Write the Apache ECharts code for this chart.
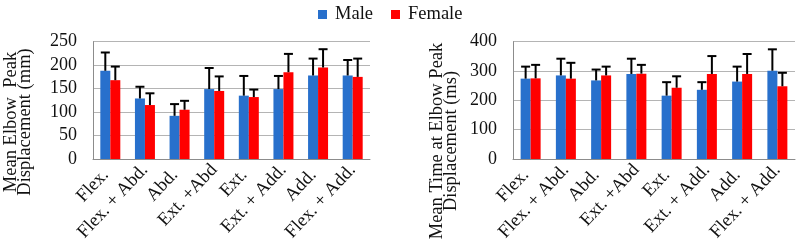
<!DOCTYPE html>
<html><head><meta charset="utf-8">
<script src="https://cdn.jsdelivr.net/npm/echarts@6/dist/echarts.min.js"></script>
<style>html,body{margin:0;padding:0;background:#fff}#c{width:796px;height:252px}</style>
</head><body><div id="c"></div>
<script>
const categories = ['Flex.', 'Flex. + Abd.', 'Abd.', 'Ext. +Abd', 'Ext.', 'Ext. + Add.', 'Add.', 'Flex. + Add.'];
const seriesNames = ['Male', 'Female'];
// Chart 1: Mean Elbow Peak Displacement (mm)
const dispMale = [188, 129, 92, 149, 135, 149, 178, 178];
const dispMaleSD = [39, 25, 25, 45, 42, 28, 36, 33];
const dispFemale = [168, 115, 105, 145, 132, 185, 195, 175];
const dispFemaleSD = [29, 25, 19, 31, 16, 39, 39, 39];
// Chart 2: Mean Time at Elbow Peak Displacement (ms)
const timeMale = [274, 285, 268, 290, 216, 236, 264, 301];
const timeMaleSD = [41, 57, 37, 52, 46, 26, 51, 73];
const timeFemale = [275, 274, 285, 291, 243, 290, 290, 248];
const timeFemaleSD = [46, 54, 30, 30, 39, 61, 68, 46];
const dispTicks = [0, 50, 100, 150, 200, 250];
const timeTicks = [0, 100, 200, 300, 400];

const BLUE = '#2870cc', RED = '#ff0000';
const FONT = 'Liberation Serif';
const BW = 10;

function errSeries(means, sds, xi, offset) {
  return {
    type: 'custom', xAxisIndex: xi, yAxisIndex: xi, z: 5, silent: true,
    data: means.map((m, i) => [i, m, m + sds[i]]),
    renderItem: function (params, api) {
      const b = api.coord([api.value(0), api.value(1)]);
      const t = api.coord([api.value(0), api.value(2)]);
      const x = b[0] + offset;
      const st = { stroke: '#000', lineWidth: 2 };
      return { type: 'group', children: [
        { type: 'line', shape: { x1: x, y1: b[1], x2: x, y2: t[1] }, style: st },
        { type: 'line', shape: { x1: x - 4.5, y1: t[1], x2: x + 4.5, y2: t[1] }, style: st }
      ]};
    }
  };
}

// short labels sit lower in the reference (Excel staggering)
function catData() {
  return categories.map((c, i) => i % 2 === 0
    ? { value: c, textStyle: { padding: [14, 7, 0, 0] } }
    : { value: c });
}

function xAx(gi) {
  return { type: 'category', gridIndex: gi, data: catData(),
    axisLine: { lineStyle: { color: '#8c8c8c', width: 1 } },
    axisTick: { show: false },
    axisLabel: { interval: 0, rotate: 47, margin: 8, fontFamily: FONT, fontSize: 18.5, color: '#111' } };
}
function yAx(gi, ticks) {
  return { type: 'value', gridIndex: gi, min: ticks[0], max: ticks[ticks.length - 1],
    interval: ticks[1] - ticks[0],
    axisLine: { show: true, lineStyle: { color: '#8c8c8c', width: 1 } },
    axisTick: { show: false },
    splitLine: { lineStyle: { color: '#b4b4b4', width: 1 } },
    axisLabel: { margin: 16, fontFamily: FONT, fontSize: 18, color: '#111' } };
}
function bar(name, data, xi, color) {
  return { name: name, type: 'bar', xAxisIndex: xi, yAxisIndex: xi, data: data,
    barWidth: BW, barGap: '0%', itemStyle: { color: color } };
}

const chart = echarts.init(document.getElementById('c'));
chart.setOption({
  animation: false,
  backgroundColor: '#fff',
  legend: { data: seriesNames, left: 313, top: 0, itemWidth: 9, itemHeight: 9, itemGap: 18,
    icon: 'rect', textStyle: { fontFamily: FONT, fontSize: 18.5, color: '#111', padding: [0, 0, 0, 3] } },
  grid: [
    { left: 93, width: 277, top: 41.7, bottom: 93 },
    { left: 513, width: 282, top: 41.7, bottom: 93 }
  ],
  xAxis: [xAx(0), xAx(1)],
  yAxis: [yAx(0, dispTicks), yAx(1, timeTicks)],
  graphic: [
    { type: 'text', x: 18, y: 122, rotation: Math.PI / 2,
      style: { text: 'Mean Elbow  Peak\nDisplacement (mm)', fontFamily: FONT, fontSize: 18.5, lineHeight: 14,
        fill: '#111', align: 'center', verticalAlign: 'middle' } },
    { type: 'text', x: 444, y: 141, rotation: Math.PI / 2,
      style: { text: 'Mean Time at Elbow Peak\nDisplacement (ms)', fontFamily: FONT, fontSize: 18.5, lineHeight: 14,
        fill: '#111', align: 'center', verticalAlign: 'middle' } }
  ],
  series: [
    bar('Male', dispMale, 0, BLUE),
    bar('Female', dispFemale, 0, RED),
    bar('Male', timeMale, 1, BLUE),
    bar('Female', timeFemale, 1, RED),
    errSeries(dispMale, dispMaleSD, 0, -BW / 2),
    errSeries(dispFemale, dispFemaleSD, 0, BW / 2),
    errSeries(timeMale, timeMaleSD, 1, -BW / 2),
    errSeries(timeFemale, timeFemaleSD, 1, BW / 2)
  ]
});
</script></body></html>
